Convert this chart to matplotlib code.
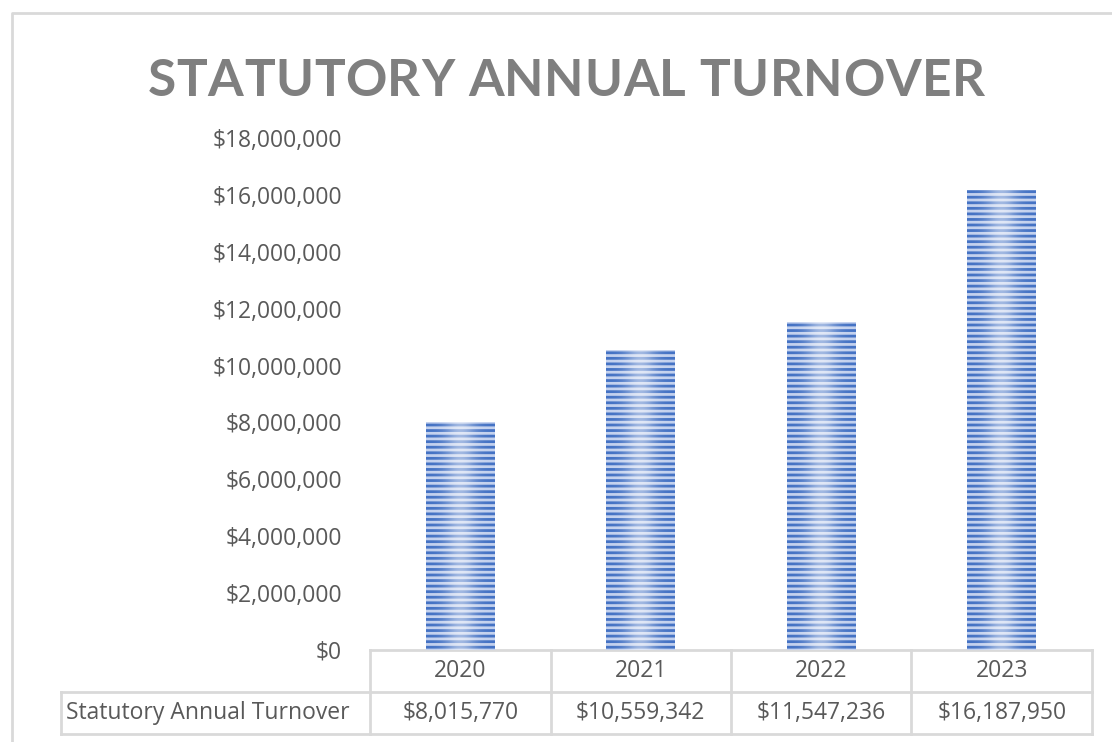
#!/usr/bin/env python3
"""Statutory annual turnover: striped column chart with a data table below."""

import matplotlib
matplotlib.use("Agg")
import matplotlib.pyplot as plt
import numpy as np
from matplotlib.lines import Line2D
from matplotlib.ticker import FuncFormatter, MultipleLocator

TITLE = "STATUTORY ANNUAL TURNOVER"
SERIES_NAME = "Statutory Annual Turnover"
YEARS = ["2020", "2021", "2022", "2023"]
TURNOVER = [8015770, 10559342, 11547236, 16187950]
Y_MAX = 18_000_000
Y_STEP = 2_000_000

TEXT_GREY = "#595959"
GRID_GREY = "#d9d9d9"
BAR_DARK = "#4472c4"
BAR_LIGHT = "#c3d1ee"

plt.rcParams["font.family"] = ["Open Sans", "DejaVu Sans"]
plt.rcParams["hatch.linewidth"] = 2.0

W, H = 1112, 742
fig = plt.figure(figsize=(W / 100, H / 100), dpi=100)

# plot area in pixels: x 370..1092, y 138..650
ax = fig.add_axes([370 / W, 1 - 650 / H, 722 / W, 512 / H])
x = np.arange(len(YEARS))
ax.set_xlim(-0.5, len(YEARS) - 0.5)
ax.set_ylim(0, Y_MAX)

bars = ax.bar(x, TURNOVER, width=0.38, color=BAR_LIGHT, edgecolor=BAR_DARK,
              hatch="---", linewidth=0, zorder=2)

# soft highlight down the middle of each bar
grad = np.linspace(-1, 1, 64)
alpha = 0.5 * np.exp(-(grad / 0.45) ** 2)
shine = np.zeros((1, 64, 4))
shine[..., :3] = 1.0
shine[0, :, 3] = alpha
for b in bars:
    im = ax.imshow(shine, extent=(b.get_x(), b.get_x() + b.get_width(), 0, b.get_height()),
                   aspect="auto", interpolation="bilinear", zorder=3)
    im.set_clip_path(b)
ax.set_xlim(-0.5, len(YEARS) - 0.5)
ax.set_ylim(0, Y_MAX)

ax.yaxis.set_major_locator(MultipleLocator(Y_STEP))
ax.yaxis.set_major_formatter(FuncFormatter(lambda v, _: f"${v:,.0f}"))
ax.tick_params(axis="y", length=0, pad=20, labelsize=16.5, labelcolor=TEXT_GREY)
ax.set_xticks([])
for s in ax.spines.values():
    s.set_visible(False)

# data table under the axis
row_h = 42 / 512
label_left = -0.5 - (370 - 62) / 180
edges = np.arange(len(YEARS) + 1) - 0.5
tkw = dict(transform=ax.get_xaxis_transform(), clip_on=False, color=GRID_GREY, lw=2, zorder=1)
ax.plot([edges[0], edges[-1]], [0, 0], **tkw)
ax.plot([label_left, edges[-1]], [-row_h, -row_h], **tkw)
ax.plot([label_left, edges[-1]], [-2 * row_h, -2 * row_h], **tkw)
for e in edges:
    ax.plot([e, e], [0, -2 * row_h], **tkw)
ax.plot([label_left, label_left], [-row_h, -2 * row_h], **tkw)

cell_kw = dict(transform=ax.get_xaxis_transform(), fontsize=16.5, color=TEXT_GREY, va="center")
for xi, yr, val in zip(x, YEARS, TURNOVER):
    ax.text(xi, -0.5 * row_h, yr, ha="center", **cell_kw)
    ax.text(xi, -1.5 * row_h, f"${val:,}", ha="center", **cell_kw)
ax.text(label_left + 5 / 180, -1.5 * row_h, SERIES_NAME, ha="left", **cell_kw)

# title with wide letter spacing
title_kw = dict(fontsize=37, fontweight="bold", color="#7f7f7f", va="baseline",
                family=["Lato", "DejaVu Sans"])
renderer = fig.canvas.get_renderer()


def text_width(s):
    t = fig.text(0, 0, s, **title_kw)
    w = t.get_window_extent(renderer).width
    t.remove()
    return w


bar_w = text_width("|")
full_w = text_width(TITLE)
target_w = 985 - 148
spacing = max(0.0, (target_w - full_w) / (len(TITLE) - 1))
left0 = 566 - (full_w + spacing * (len(TITLE) - 1)) / 2
for i, ch in enumerate(TITLE):
    if ch == " ":
        continue
    off = (text_width(TITLE[:i] + "|") - bar_w) if i else 0
    fig.text((left0 + off + i * spacing) / W, 1 - 96 / H, ch, ha="left", **title_kw)

# chart frame
fig.add_artist(Line2D([12 / W, 12 / W, 1.01], [-0.01, 1 - 13 / H, 1 - 13 / H],
                      color=GRID_GREY, lw=2))

fig.savefig("out.png", dpi=100)
